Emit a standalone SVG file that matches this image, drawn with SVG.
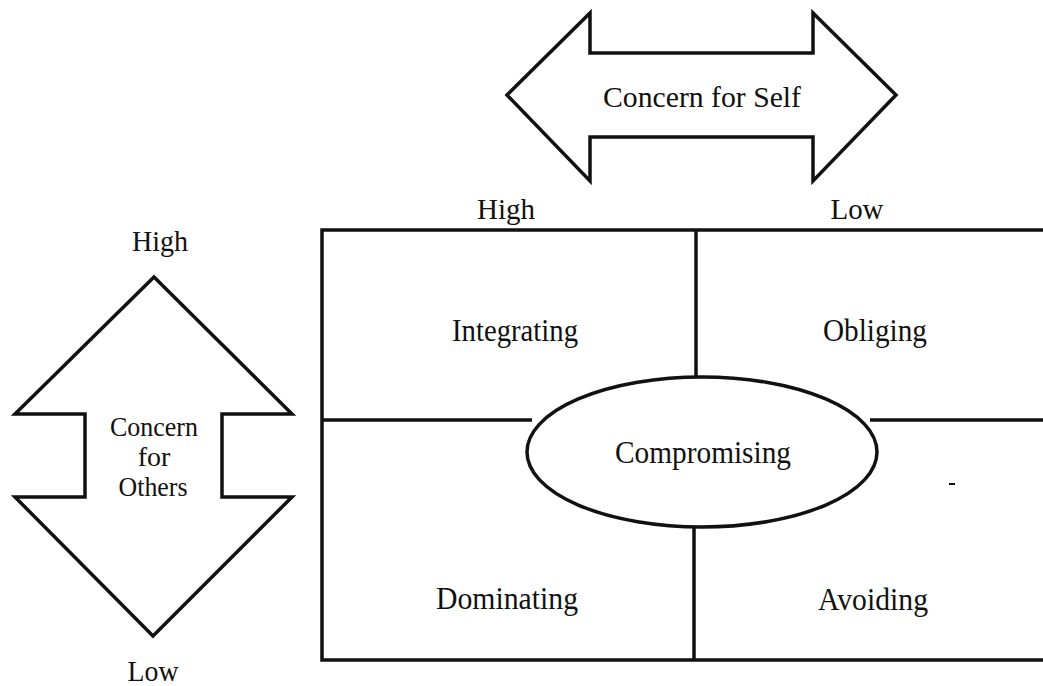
<svg xmlns="http://www.w3.org/2000/svg" width="1043" height="686" viewBox="0 0 1043 686">
  <style>
    .shape { fill: #fff; stroke: #111; stroke-width: 3.5; stroke-linejoin: miter; }
    .line { stroke: #111; stroke-width: 3.5; fill: none; }
  </style>
  <rect width="1043" height="686" fill="#fff"/>

  <g fill="#111" text-anchor="middle" font-family="Liberation Serif, Times New Roman, serif" lengthAdjust="spacingAndGlyphs">
  <!-- horizontal double arrow: concern for self -->
  <g id="arrow-self">
    <polygon class="shape" points="507,95 590,13 590,53 813,53 813,13 896,95 813,181 813,137 590,137 590,181"/>
    <text x="702" y="107" font-size="30" textLength="198" lengthAdjust="spacingAndGlyphs">Concern for Self</text>
  </g>

  <!-- vertical double arrow: concern for others -->
  <g id="arrow-others">
    <polygon class="shape" points="154,277 292,414 222,414 222,497 292,497 153,636 15,497 85,497 85,414 15,414"/>
    <text x="154" y="436" font-size="28" textLength="88" lengthAdjust="spacingAndGlyphs">Concern</text>
    <text x="154" y="466" font-size="28">for</text>
    <text x="153" y="496" font-size="28" textLength="69" lengthAdjust="spacingAndGlyphs">Others</text>
  </g>

  <!-- axis labels -->
  <g id="axis-labels">
    <text x="506" y="219" font-size="29" textLength="58" lengthAdjust="spacingAndGlyphs">High</text>
    <text x="857" y="219" font-size="29" textLength="53" lengthAdjust="spacingAndGlyphs">Low</text>
    <text x="160" y="251" font-size="29" textLength="56" lengthAdjust="spacingAndGlyphs">High</text>
    <text x="153" y="681" font-size="29" textLength="51" lengthAdjust="spacingAndGlyphs">Low</text>
  </g>

  <!-- grid lines -->
  <g id="connectors">
    <polyline class="line" points="1045,230 322,230 322,660 1045,660"/>
    <line class="line" x1="696" y1="230" x2="696" y2="378"/>
    <line class="line" x1="694" y1="526" x2="694" y2="660"/>
    <line class="line" x1="322" y1="420" x2="532" y2="420"/>
    <line class="line" x1="870" y1="420" x2="1045" y2="420"/>
    <line x1="949" y1="484" x2="955" y2="484" stroke="#111" stroke-width="2"/>
  </g>

  <g id="integrating"><text x="515" y="341" font-size="31" textLength="126" lengthAdjust="spacingAndGlyphs">Integrating</text></g>
  <g id="obliging"><text x="875" y="341" font-size="31" textLength="104" lengthAdjust="spacingAndGlyphs">Obliging</text></g>
  <g id="dominating"><text x="507" y="609" font-size="31" textLength="142" lengthAdjust="spacingAndGlyphs">Dominating</text></g>
  <g id="avoiding"><text x="873" y="610" font-size="31" textLength="110" lengthAdjust="spacingAndGlyphs">Avoiding</text></g>

  <g id="compromising">
    <ellipse class="shape" cx="702" cy="452" rx="175" ry="75"/>
    <text x="703" y="463" font-size="31" textLength="176" lengthAdjust="spacingAndGlyphs">Compromising</text>
  </g>
  </g>
</svg>
